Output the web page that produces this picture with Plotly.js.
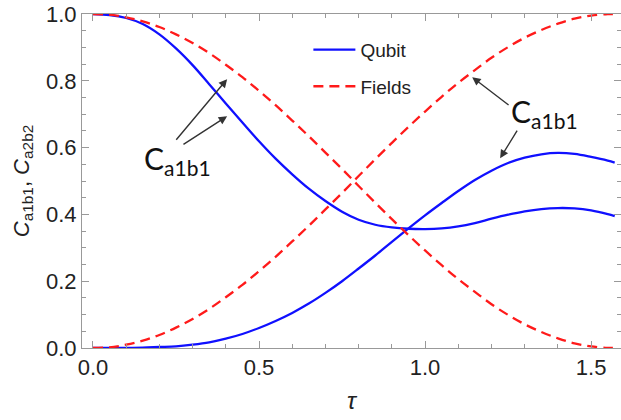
<!DOCTYPE html>
<html>
<head>
<meta charset="utf-8">
<script src="https://cdn.plot.ly/plotly-3.0.1.min.js"></script>
<style>html,body{margin:0;padding:0;background:#fff;}#chart{width:621px;height:420px;}</style>
</head>
<body>
<div id="chart"></div>
<script>
// tau values
const tau = [0, 0.05, 0.1, 0.15, 0.2, 0.25, 0.3, 0.35, 0.4, 0.45, 0.5, 0.55, 0.6, 0.65, 0.7, 0.75, 0.8, 0.85,
             0.9, 0.95, 1.0, 1.05, 1.1, 1.15, 1.2, 1.25, 1.3, 1.35, 1.4, 1.45, 1.5, 1.55, 1.571];
// Qubit (blue, solid)
const qubitA = [1.000, 0.997, 0.988, 0.970, 0.939, 0.897, 0.847, 0.790, 0.732, 0.675, 0.619, 0.567, 0.520, 0.477, 0.440, 0.408, 0.384, 0.369,
                0.361, 0.357, 0.356, 0.358, 0.364, 0.374, 0.387, 0.399, 0.409, 0.416, 0.419, 0.418, 0.412, 0.401, 0.395];
const qubitB = [0.000, 0.000, 0.0003, 0.001, 0.003, 0.005, 0.010, 0.017, 0.028, 0.042, 0.060, 0.081, 0.105, 0.133, 0.165, 0.200, 0.238, 0.277,
                0.318, 0.358, 0.397, 0.434, 0.470, 0.503, 0.531, 0.554, 0.570, 0.580, 0.584, 0.581, 0.572, 0.561, 0.555];
// Fields (red, dashed)
const fieldA = [1.000, 0.998, 0.990, 0.978, 0.961, 0.939, 0.913, 0.883, 0.848, 0.811, 0.770, 0.727, 0.681, 0.634, 0.585, 0.536, 0.485, 0.435,
                0.386, 0.338, 0.292, 0.248, 0.206, 0.168, 0.131, 0.099, 0.071, 0.048, 0.029, 0.014, 0.005, 0.0004, 0.000];
const fieldB = [0.000, 0.002, 0.010, 0.022, 0.039, 0.061, 0.087, 0.117, 0.152, 0.189, 0.230, 0.273, 0.319, 0.366, 0.415, 0.464, 0.515, 0.565,
                0.614, 0.662, 0.708, 0.752, 0.794, 0.832, 0.869, 0.901, 0.929, 0.952, 0.971, 0.986, 0.995, 0.9996, 1.000];
const xTicks = [0, 0.5, 1.0, 1.5];
const xTickText = ['0.0', '0.5', '1.0', '1.5'];
const yTicks = [0, 0.2, 0.4, 0.6, 0.8, 1.0];
const yTickText = ['0.0', '0.2', '0.4', '0.6', '0.8', '1.0'];
const legendNames = ['Qubit', 'Fields'];

const blue = '#1010ff', red = '#ff1a1a';
const traces = [
  {x: tau, y: qubitA, mode: 'lines', line: {color: blue, width: 2.3, shape: 'spline'}, name: legendNames[0], legendgroup: 'q', showlegend: true},
  {x: tau, y: qubitB, mode: 'lines', line: {color: blue, width: 2.3, shape: 'spline'}, name: legendNames[0], legendgroup: 'q', showlegend: false},
  {x: tau, y: fieldA, mode: 'lines', line: {color: red, width: 2.3, shape: 'spline', dash: '10px,6px'}, name: legendNames[1], legendgroup: 'f', showlegend: true},
  {x: tau, y: fieldB, mode: 'lines', line: {color: red, width: 2.3, shape: 'spline', dash: '10px,6px'}, name: legendNames[1], legendgroup: 'f', showlegend: false}
];

const arrowColor = '#333333';
function arrow(xt, yt, xs, ys) {
  return {x: xt, y: yt, ax: xs, ay: ys, xref: 'x', yref: 'y', axref: 'x', ayref: 'y',
          text: '', showarrow: true, arrowhead: 2, arrowsize: 1.2, arrowwidth: 1.4, arrowcolor: arrowColor};
}
const labelFont = {family: 'Lato, Carlito, sans-serif', size: 30, color: '#111'};
const annotations = [
  arrow(0.404, 0.805, 0.247, 0.619),
  arrow(0.404, 0.694, 0.268, 0.607),
  arrow(1.142, 0.811, 1.256, 0.724),
  arrow(1.226, 0.568, 1.280, 0.655),
  {x: 0.254, y: 0.562, xref: 'x', yref: 'y', text: 'C<sub>a1b1</sub>', showarrow: false, font: labelFont},
  {x: 1.360, y: 0.703, xref: 'x', yref: 'y', text: 'C<sub>a1b1</sub>', showarrow: false, font: labelFont}
];

const axisCommon = {
  showline: true, linecolor: '#999', linewidth: 1, mirror: 'allticks',
  ticks: 'inside', ticklen: 7, tickwidth: 1, tickcolor: '#999',
  showgrid: false, zeroline: false,
  tickfont: {family: 'Liberation Sans, Arial, sans-serif', size: 22, color: '#222'}
};

const layout = {
  width: 621, height: 420,
  margin: {l: 82, r: 0, t: 14, b: 72},
  paper_bgcolor: '#fff', plot_bgcolor: '#fff',
  showlegend: true,
  legend: {x: 0.42, y: 0.95, xanchor: 'left', yanchor: 'top', bgcolor: 'rgba(0,0,0,0)',
           font: {family: 'Liberation Sans, Arial, sans-serif', size: 19, color: '#222'},
           tracegroupgap: 9, traceorder: 'grouped', itemwidth: 42},
  xaxis: Object.assign({}, axisCommon, {
    range: [-0.033, 1.59], tickvals: xTicks, ticktext: xTickText,
    minor: {dtick: 0.1, tick0: 0, ticks: 'inside', ticklen: 4, tickcolor: '#999', showgrid: false},
    title: {text: '<i>τ</i>', font: {family: 'Liberation Sans, Arial, sans-serif', size: 24, color: '#222'}, standoff: 12}
  }),
  yaxis: Object.assign({}, axisCommon, {
    range: [0, 1], tickvals: yTicks, ticktext: yTickText,
    minor: {dtick: 0.05, tick0: 0, ticks: 'inside', ticklen: 4, tickcolor: '#999', showgrid: false},
    title: {text: '<i>C</i><sub>a1b1</sub>, <i>C</i><sub>a2b2</sub>', font: {family: 'Liberation Sans, Arial, sans-serif', size: 22, color: '#222'}, standoff: 10}
  }),
  annotations: annotations
};

Plotly.newPlot('chart', traces, layout, {displayModeBar: false, staticPlot: true});
</script>
</body>
</html>
